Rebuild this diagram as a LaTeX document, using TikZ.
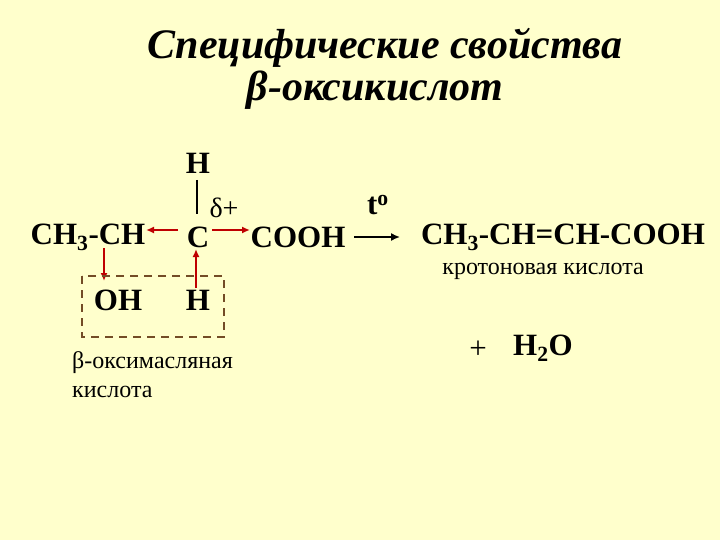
\documentclass[tikz,border=0pt]{standalone}
\usepackage{fontspec}
\usetikzlibrary{arrows.meta}
\setmainfont{Liberation Serif}
\begin{document}
\begin{tikzpicture}[x=1pt,y=-1pt,
  chem/.style={font=\fontsize{31}{34}\selectfont\bfseries, inner sep=0pt},
  lbl/.style={font=\fontsize{24}{28}\selectfont, inner sep=0pt},
  rarr/.style={red!75!black, line width=2.2pt, -{Latex[length=8pt,width=7pt]}}]
\fill[fill={rgb,255:red,255;green,255;blue,204}] (0,0) rectangle (720,540);
\useasboundingbox (0,0) rectangle (720,540);
\node[font=\fontsize{42}{46}\selectfont\bfseries\itshape] (t1) at (385,48) {Специфические свойства};
\node[font=\fontsize{42}{46}\selectfont\bfseries\itshape] (t2) at (375,90) {β-оксикислот};
\node[chem] (ch) at (88,237) {CH\textsubscript{3}-CH};
\node[chem] (c) at (198,237) {C};
\node[chem] (cooh) at (298,237) {COOH};
\node[chem] (htop) at (198,163) {H};
\node[chem] (oh) at (118,300) {OH};
\node[chem] (hb) at (198,300) {H};
\node[font=\fontsize{28}{30}\selectfont, inner sep=0pt] (d) at (224,208) {δ+};
\draw[line width=1.5pt] (197,180) -- (197,214);
\draw[rarr] (178,230) -- (146,230);
\draw[rarr] (212,230) -- (250,230);
\draw[rarr] (104,248) -- (104,281);
\draw[rarr] (196,288) -- (196,249);
\draw[brown!60!black, line width=2pt, dash pattern=on 8pt off 6pt] (82,276) rectangle (224,337);
\node[lbl, anchor=west] (b1) at (72,363) {β-оксимасляная};
\node[lbl, anchor=west] (b2) at (72,392) {кислота};
\coordinate (a1) at (354,237); \coordinate (a2) at (400,237);
\draw[line width=1.6pt, -{Latex[length=9pt,width=8pt]}] (a1) -- (a2);
\node[chem] (to) at (378,205) {t\textsuperscript{o}};
\node[chem] (prod) at (563,237) {CH\textsubscript{3}-CH=CH-COOH};
\node[lbl] (kr) at (543,271) {кротоновая кислота};
\node[chem, font=\fontsize{31}{34}\selectfont] (plus) at (478,350) {+};
\node[chem] (h2o) at (543,348) {H\textsubscript{2}O};
\end{tikzpicture}
\end{document}
